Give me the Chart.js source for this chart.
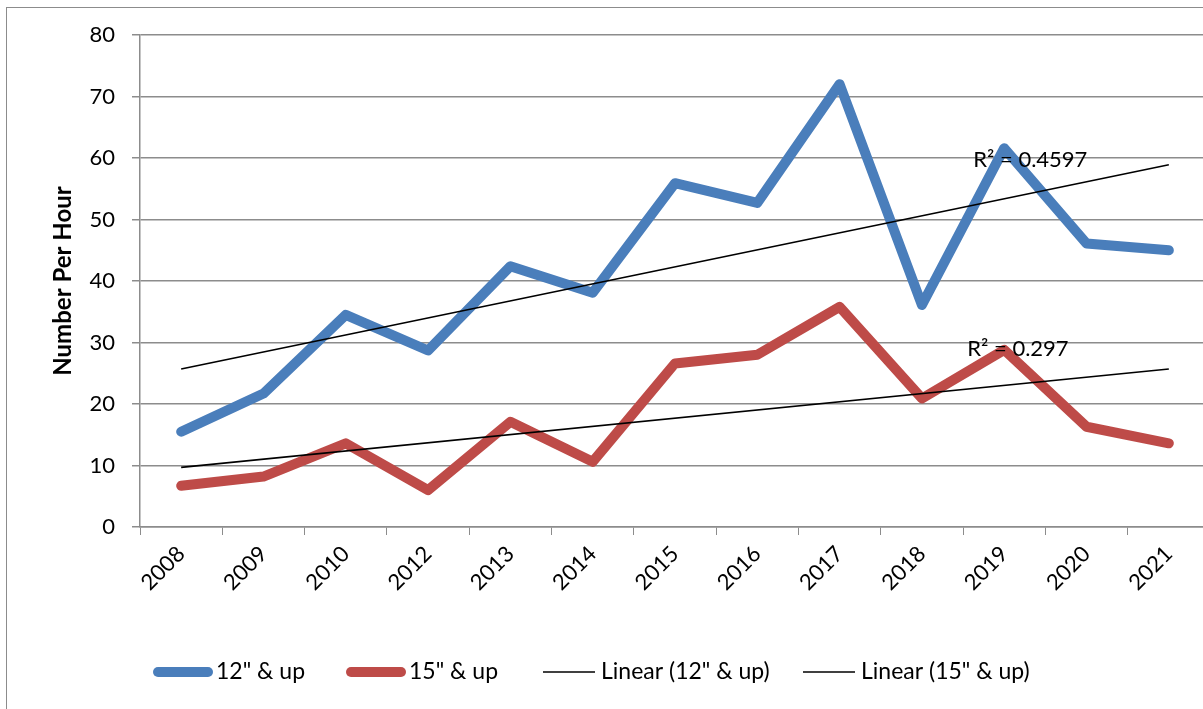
<!DOCTYPE html>
<html>
<head>
<meta charset="utf-8">
<script src="https://cdn.jsdelivr.net/npm/chart.js@4"></script>
<style>
    html, body { margin: 0; padding: 0; background: #fff; overflow: hidden; }
    .frame {
        position: absolute; left: 6px; top: 7px; width: 1400px; height: 900px;
        border: 1px solid #8c8c8c;
    }
    .chart-box { position: absolute; left: 0; top: 0; width: 1215px; height: 709px; }
</style>
</head>
<body>
<div class="frame"></div>
<div class="chart-box"><canvas id="fishChart"></canvas></div>
<script>
// Data
const years = ['2008', '2009', '2010', '2012', '2013', '2014', '2015', '2016', '2017', '2018', '2019', '2020', '2021'];
const up12 = [15.5, 21.7, 34.5, 28.7, 42.4, 38.1, 55.9, 52.7, 72.0, 36.1, 61.6, 46.1, 45.0];
const up15 = [6.7, 8.2, 13.6, 6.0, 17.1, 10.6, 26.6, 28.0, 35.8, 20.9, 28.8, 16.3, 13.6];
// trendline end points (first and last year only)
const trend12 = [25.7, null, null, null, null, null, null, null, null, null, null, null, 58.9];
const trend15 = [9.7, null, null, null, null, null, null, null, null, null, null, null, 25.7];
const r2Labels = ['R\u00b2 = 0.4597', 'R\u00b2 = 0.297'];
const yTicks = [0, 10, 20, 30, 40, 50, 60, 70, 80];

const FONT = 'Lato, "Open Sans", sans-serif';
const gridGray = '#8c8c8c';

// Draws the R² texts next to the trendlines
const r2Plugin = {
    id: 'r2Text',
    afterDatasetsDraw(chart, args, opts) {
        const ctx = chart.ctx;
        const xs = chart.scales.x;
        const ys = chart.scales.y;
        ctx.save();
        ctx.font = '22px ' + FONT;
        ctx.fillStyle = '#000';
        ctx.textBaseline = 'middle';
        ctx.textAlign = 'left';
        opts.items.forEach(item => {
            const px = xs.getPixelForValue(years.indexOf(item.at)) + item.dx;
            const py = ys.getPixelForValue(item.y);
            ctx.fillText(item.text, px, py);
        });
        ctx.restore();
    }
};

// Excel-like legend: short line sample, small gap, then the text
const bottomLegend = {
    id: 'bottomLegend',
    afterDraw(chart, args, opts) {
        const ctx = chart.ctx;
        ctx.save();
        ctx.font = '23px ' + FONT;
        ctx.textBaseline = 'middle';
        ctx.textAlign = 'left';
        chart.data.datasets.forEach((ds, i) => {
            const x = opts.starts[i];
            const thick = ds.borderWidth > 3;
            const len = thick ? 50 : 52;
            ctx.beginPath();
            ctx.strokeStyle = ds.borderColor;
            ctx.lineWidth = ds.borderWidth;
            ctx.lineCap = thick ? 'round' : 'butt';
            ctx.moveTo(x, opts.y);
            ctx.lineTo(x + len, opts.y);
            ctx.stroke();
            ctx.fillStyle = '#000';
            ctx.fillText(ds.label, x + len + (thick ? 8 : 6), opts.y);
        });
        ctx.restore();
    }
};

const ctx = document.getElementById('fishChart').getContext('2d');
new Chart(ctx, {
    type: 'line',
    data: {
        labels: years,
        datasets: [
            {
                label: '12" & up',
                data: up12,
                borderColor: '#4a7ebb',
                borderWidth: 10,
                borderCapStyle: 'round',
                borderJoinStyle: 'round',
                pointRadius: 0,
                order: 2
            },
            {
                label: '15" & up',
                data: up15,
                borderColor: '#be4b48',
                borderWidth: 10,
                borderCapStyle: 'round',
                borderJoinStyle: 'round',
                pointRadius: 0,
                order: 2
            },
            {
                label: 'Linear (12" & up)',
                data: trend12,
                borderColor: '#000',
                borderWidth: 1.6,
                pointRadius: 0,
                spanGaps: true,
                order: 1
            },
            {
                label: 'Linear (15" & up)',
                data: trend15,
                borderColor: '#000',
                borderWidth: 1.6,
                pointRadius: 0,
                spanGaps: true,
                order: 1
            }
        ]
    },
    options: {
        responsive: true,
        maintainAspectRatio: false,
        animation: false,
        layout: { padding: { top: 35, right: 5, left: 0, bottom: 0 } },
        plugins: {
            tooltip: { enabled: false },
            legend: { display: false },
            bottomLegend: { starts: [158, 351, 543, 803], y: 672 },
            r2Text: {
                items: [
                    { text: r2Labels[0], at: '2019', y: 59.7, dx: -31 },
                    { text: r2Labels[1], at: '2019', y: 28.9, dx: -37 }
                ]
            }
        },
        scales: {
            x: {
                offset: true,
                afterFit: (scale) => { scale.height = 182; },
                grid: {
                    offset: true,
                    drawOnChartArea: false,
                    drawTicks: true,
                    tickLength: 8,
                    color: gridGray
                },
                border: { color: gridGray, width: 1.5 },
                ticks: {
                    color: '#000',
                    font: { family: FONT, size: 22 },
                    minRotation: 45,
                    maxRotation: 45,
                    padding: 6
                }
            },
            y: {
                min: 0,
                max: 80,
                afterFit: (scale) => { scale.width = 140; },
                afterBuildTicks: (scale) => { scale.ticks = yTicks.map(v => ({ value: v })); },
                grid: {
                    color: gridGray,
                    lineWidth: 1.5,
                    tickLength: 8
                },
                border: { color: gridGray, width: 1.5 },
                ticks: {
                    color: '#000',
                    font: { family: FONT, size: 22 },
                    padding: 17
                },
                title: {
                    display: true,
                    text: 'Number Per Hour',
                    color: '#000',
                    font: { family: FONT, size: 24, weight: 'bold' },
                    padding: { top: 49, bottom: 0 }
                }
            }
        }
    },
    plugins: [r2Plugin, bottomLegend]
});
</script>
</body>
</html>
